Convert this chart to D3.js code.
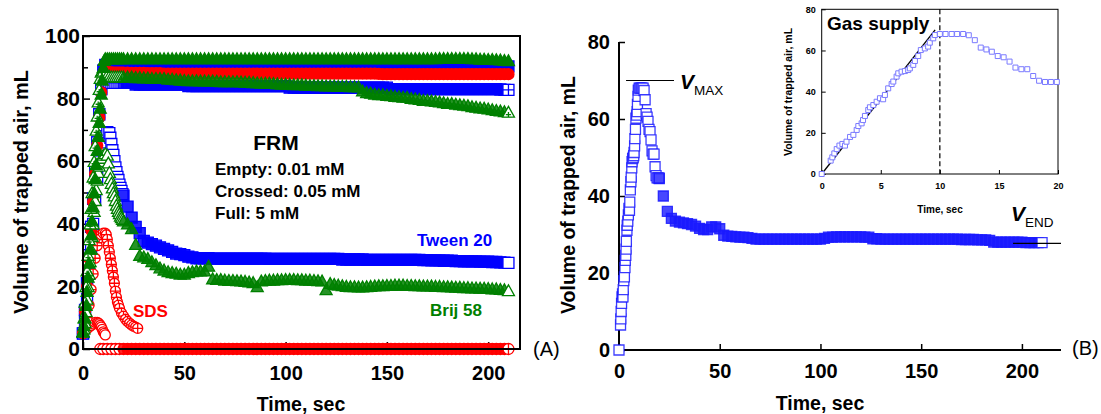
<!DOCTYPE html>
<html>
<head>
<meta charset="UTF-8">
<title>Trapped air volume</title>
<script src="https://d3js.org/d3.v7.min.js"></script>
<style>
  body { margin: 0; background: #fff; }
  svg text { font-family: "Liberation Sans", Arial, Helvetica, sans-serif; }
</style>
</head>
<body>
<div id="chart"></div>
<script>
// ---------------- data ----------------
// long tails are read every 2 s from t = 20 s to 210 s
var tailTime = d3.range(20, 211, 2);

// Panel A, Tween 20 (blue squares)
var tweenFullHead = [[0,5],[1,12],[2,21],[3,30],[4,39],[5,48],[6,57],[7,66],[8,75],[9,83],[10,89],[11,90.8],[12,90.6],[13,90.5],[14,90.5],[15,90.5],[16,90.5],[17,90.5],[18,90.5],[19,90.5]];
var tweenFullTail = [
  90.5,90.5,90.5,90.5,90.5,90.5,90.5,90.5,90.5,90.5,90.5,90.5,
  90.5,90.5,90.5,90.5,90.5,90.5,90.5,90.5,90.5,90.5,90.5,90.5,
  90.5,90.5,90.5,90.5,90.5,90.5,90.5,90.5,90.5,90.5,90.5,90.5,
  90.5,90.5,90.5,90.5,90.5,90.5,90.5,90.5,90.5,90.5,90.5,90.5,
  90.5,90.5,90.5,90.5,90.5,90.5,90.5,90.5,90.5,90.5,90.5,90.5,
  90.5,90.5,90.5,90.5,90.5,90.5,90.5,90.5,90.5,90.5,90.5,90.5,
  90.5,90.5,90.5,90.5,90.5,90.5,90.5,90.5,90.5,90.5,90.5,90.5,
  90.5,90.5,90.5,90.5,90.5,90.5,90.5,90.5,90.5,90.4,90.3,90.3];
var tweenCrossedHead = [[0,5],[1,12.5],[2,21],[3,30],[4,39],[5,48],[6,57],[7,66],[8,75],[9,83],[10,87.5],[11,86.5],[12,85.5],[13,85.2],[14,85],[15,85],[16,85],[17,85],[18,85],[19,85]];
var tweenCrossedTail = [
  85,85,85,84.5,84.5,84.5,84.5,84.5,84.5,84.5,84.5,84.5,
  84.5,84.5,84.5,84.5,84,84,84,84,84,84,84,84,
  84,84,84,84,84,84,84,84,84,84,84,84,
  84,84,84,84,84,83.5,83.5,83.5,83.5,83.5,83.5,83.5,
  83.5,83.5,83.5,83.5,83.5,83.5,83.5,83.5,83.5,83.5,83.5,83.5,
  83.5,83.5,83.5,83.5,83.5,83.5,83,83,83,83,83,83,
  83,83,83,83,83,83,83,83,83,83,83,83,
  83,83,83,83,83,83,83,83,83,82.9,82.8,82.8];
var tweenEmptyHead = [[0,5],[1,9],[2,16],[3,24],[4,32],[5,40],[6,48],[7,55],[8,60],[9,63.5],[10,66],[11,68],[12,69.3],[13,69],[13.5,67.5],[14,65.5],[14.5,63.5],[15,62],[15.5,60],[16,58],[16.5,56.5],[17,55],[17.5,54],[18,52.5],[18.5,51.5],[19,50.5],[19.5,49.5]];
var tweenEmptyTail = [
  49,45.5,42,39,37,34.5,34,33.5,33,32.5,32,31.5,
  31,30.5,30.3,30,29.5,29.3,29,29,29,29,28.9,28.9,
  28.9,28.9,28.9,28.9,28.9,28.9,28.9,28.9,28.9,28.9,28.9,28.9,
  28.8,28.8,28.8,28.8,28.8,28.8,28.8,28.8,28.8,28.8,28.8,28.8,
  28.8,28.8,28.8,28.8,28.8,28.8,28.6,28.6,28.6,28.6,28.6,28.6,
  28.5,28.5,28.5,28.5,28.5,28.5,28.5,28.5,28.5,28.5,28.5,28.5,
  28.5,28.5,28.4,28.4,28.3,28.3,28.3,28.2,28.2,28.2,28.1,28.1,
  28,28,28,28,27.9,27.9,27.9,27.8,27.8,27.7,27.6,27.5];

// Panel A, SDS (red circles)
var sdsFullHead = [[0,5],[1,12],[2,20],[3,29],[4,38],[5,47],[6,56],[7,65],[8,74],[9,82],[10,87],[11,88.5],[12,88.4],[13,88.4],[14,88.4],[15,88.3],[16,88.3],[17,88.3],[18,88.3],[19,88.3]];
var sdsFullTail = [
  88.3,88.3,88.2,88.2,88.2,88.2,88.1,88.1,88.1,88.1,88,88,
  88,88,88,88,88,88,88,88,88,88,88,88,
  88,88,88,88,88,88,88,88,88,88,88,88,
  88,88,88,88,88,88,88,88,88,88,88,88,
  88,88,88,88,88,88,88,88,88,88,88,88,
  88,88,88,87.9,87.8,87.8,87.8,87.8,87.8,87.8,87.8,87.8,
  87.8,87.8,87.8,87.8,87.8,87.8,87.8,87.8,87.8,87.8,87.8,87.8,
  87.8,87.8,87.8,87.8,87.8,87.8,87.8,87.8,87.8,87.8,87.8,87.8];
var sdsCrossedHead = [[0,5],[1,7],[2,10],[3,14],[4,19],[5,24],[6,29],[7,33],[8,35.5],[9,36.5],[10,37],[11,37],[11.5,36.5],[12,35],[12.5,33],[13,31],[13.5,29],[14,27],[14.5,25],[15,23],[15.5,21],[16,18.5],[16.5,16.5],[17,15],[17.5,14],[18,13],[19,11.5],[20,10.5],[21,9.5],[22,8.8],[23,8.2],[24,7.7],[25,7.3],[26,7],[27,6.6]];
var sdsEmptyHead = [[0,5],[0.5,5.5],[1,6],[2,6.5],[3,7],[4,7.5],[5,8],[6,8.5],[7,8.5],[7.5,8.3],[8,8],[8.5,7.5],[9,7],[9.5,6.3],[10,5.5],[10.5,5],[11,4.5]];
var sdsBaseHead = [[8.5,0],[10,0],[12,0],[14,0],[16,0],[18,0]];
var sdsBaseTail = [
  0,0,0,0,0,0,0,0,0,0,0,0, 0,0,0,0,0,0,0,0,0,0,0,0,
  0,0,0,0,0,0,0,0,0,0,0,0, 0,0,0,0,0,0,0,0,0,0,0,0,
  0,0,0,0,0,0,0,0,0,0,0,0, 0,0,0,0,0,0,0,0,0,0,0,0,
  0,0,0,0,0,0,0,0,0,0,0,0, 0,0,0,0,0,0,0,0,0,0,0,0];

// Panel A, Brij 58 (green triangles)
var brijFullHead = [[0,5],[0.5,7],[1,9.5],[1.5,13.5],[2,18],[2.5,22.5],[3,27],[3.5,31.5],[4,36],[4.5,40.5],[5,45],[5.5,49.5],[6,54],[6.5,58.5],[7,63],[7.5,67.5],[8,72],[8.5,76.5],[9,81],[9.5,85.5],[10,89.5],[10.5,91.8],[11,92.3],[12,92.3],[13,92.3],[14,92.3],[15,92.3],[16,92.3],[17,92.3],[18,92.3],[19,92.3]];
var brijFullTail = [
  92.3,92.3,92.3,92.3,92.3,92.3,92.3,92.3,92.3,92.3,92.3,92.3,
  92.3,92.3,92.3,92.3,92.3,92.3,92.3,92.3,92.3,92.3,92.3,92.3,
  92.3,92.3,92.3,92.3,92.3,92.3,92.3,92.3,92.3,92.3,92.3,92.3,
  92.3,92.3,92.3,92.3,92.3,92.3,92.3,92.3,92.3,92.3,92.3,92.3,
  92.3,92.3,92.3,92.3,92.3,92.3,92.3,92.3,92.3,92.3,92.3,92.3,
  92.3,92.3,92.3,92.3,92.3,92.3,92.3,92.3,92.3,92.3,92.3,92.3,
  92.3,92.3,92.3,92.3,92.3,92.3,92.4,92.4,92.4,92.4,92.4,92.4,
  92.4,92.4,92.3,92.3,92.2,92.2,92.1,92.1,92,91.9,91.8,91.7];
var brijCrossedHead = [[0,5],[0.5,9.5],[1,14.5],[1.5,19.5],[2,24.5],[2.5,29.5],[3,34.5],[3.5,39.5],[4,44.5],[4.5,49.5],[5,54.5],[5.5,59.5],[6,64.5],[6.5,69.5],[7,74],[7.5,78.5],[8,82.5],[8.5,86],[9,88],[9.5,88.5],[10,88.3],[11,87.5],[12,87],[13,86.7],[14,86.5],[15,86.5],[16,86.5],[17,86.5],[18,86.5],[19,86.5]];
var brijCrossedTail = [
  86.5,86.5,86.5,86.3,86.3,86.2,86.2,86,86,86,86,85.8,
  85.8,85.6,85.5,85.4,85.3,85.3,85.3,85.2,85.2,85.2,85.2,85.1,
  85,85,85,85,85,84.9,84.8,84.8,84.7,84.6,84.5,84.5,
  84.5,84.4,84.3,84.2,84.2,84.1,84,84,84,83.9,83.8,83.8,
  83.7,83.7,83.6,83.6,83.6,83.5,83.5,83.5,83.4,83.4,83.3,82,
  81.5,81.3,81,80.8,80.8,80.6,80.5,80.3,80.2,80,80,79.6,
  79.5,79.3,79,79,78.8,78.7,78.5,78.3,78,78,77.8,77.6,
  77.5,77.3,77,76.8,76.6,76.5,76.3,76,75.8,75.6,75.4,75.2];
var brijEmptyHead = [[0,5],[0.5,6],[1,8],[1.5,11.5],[2,15.5],[2.5,19.5],[3,23.5],[3.5,27.5],[4,31.5],[4.5,35.5],[5,39.5],[5.5,43.5],[6,47],[6.5,50.5],[7,53.5],[7.5,56],[8,58],[8.5,59.5],[9,60.5],[10,61.5],[11,62],[12,61.5],[12.5,59],[13,56],[13.5,54],[14,52.5],[14.5,51],[15,49.5],[15.5,48.5],[16,47],[16.5,45.5],[17,44.5],[17.5,43.5],[18,42.8],[18.5,42],[19,41.5],[19.5,41]];
var brijEmptyTail = [
  40.5,39.5,38,33,29.5,29,28.5,27.5,26.5,25.5,24.8,24.3,
  24,23.8,23.5,23.5,24,24.3,24.5,24.5,24.5,26,22,21.8,
  21.8,21.6,21.5,21.5,21.4,21.3,21.2,21,20.8,19.5,21.3,21.5,
  21.6,21.6,21.7,21.7,21.8,21.8,21.8,21.7,21.7,21.6,21.6,21.5,
  21.4,21.3,18.5,20.5,20.2,20,19.8,19.6,19.5,19.5,19.4,19.4,
  19.5,19.6,19.7,19.8,19.8,19.9,19.9,20,20,20,19.9,19.9,
  19.8,19.8,19.7,19.7,19.7,19.6,19.6,19.5,19.5,19.4,19.3,19.3,
  19.2,19.2,19.1,19.1,19,19,18.9,18.8,18.8,18.6,18.5,18.2];

// Panel B: gas supply period (also the inset) and the tail
var supplyT = [0,0.76,0.9,1.07,1.27,1.5,1.75,1.97,2.1,2.4,2.68,2.96,3.1,3.38,3.5,3.66,3.94,4.08,4.37,4.65,4.93,5.2,5.35,5.63,5.92,6.06,6.34,6.48,6.76,7.04,7.32,7.46,7.75,7.89,8.17,8.39,8.73,9.01,9.15,9.44,9.58,10,10.48,11,11.46,11.97,12.45,12.96,13.46,13.94,14.4,14.9,15.4,15.9,16.4,16.9,17.4,17.9,18.4,18.9,19.4,19.9];
var supplyV = [0,6.5,8.1,10,12.1,13.8,14.6,13.8,15.7,18,19,21.4,23.3,24.6,26.2,28.2,31.1,32.4,33.5,35.1,36.8,36.3,38.4,41.6,43.7,44.9,47.3,48.9,49.7,50,50.5,51.3,53,54.9,57.3,60.2,61,61.9,63.8,65.9,67.5,68,68,68,68,68,67.4,65,61.4,60.5,59.4,57.3,56.7,54.6,51.7,50.9,50.9,47.6,45.3,44.7,44.7,44.7];
var bTail = [
  44.5,40,36,34.2,33.5,33.2,33,32.8,32.6,32.2,31.6,31.3,
  31.3,32,32,31.5,29.8,29.6,29.5,29.4,29.3,29.3,29.2,29,
  28.8,28.8,28.8,28.8,28.8,28.8,28.8,28.8,28.8,28.8,28.8,28.8,
  28.8,28.8,28.8,28.8,28.8,29,29.3,29.3,29.4,29.4,29.4,29.4,
  29.4,29.4,29.4,29.3,29.3,28.9,28.9,28.8,28.8,28.8,28.8,28.8,
  28.8,28.8,28.8,28.8,28.8,28.8,28.8,28.8,28.8,28.8,28.8,28.8,
  28.8,28.8,28.8,28.7,28.7,28.7,28.7,28.6,28.6,28.6,28.5,28,
  28,28,28,28,28,28,28,27.9,27.9,27.9,27.9,27.9];
var supplyLineT = [0, 9.6];
var supplyLineV = [0, 70];
var vMax = 70, vEnd = 27.7, supplyEnd = 10;

// ---------------- drawing ----------------
var W = 1101, H = 414;
var BLUE = "#0000ff", RED = "#ff0000", GREEN = "#008000";

var svg = d3.select("#chart").append("svg")
    .attr("width", W).attr("height", H);

function series(head, tail) {
    var pts = head.map(function (p) { return { t: p[0], v: p[1], tail: false }; });
    if (tail) tail.forEach(function (v, i) { pts.push({ t: tailTime[i], v: v, tail: true }); });
    return pts;
}

function shapePath(shape, s) {
    var h = s / 2;
    if (shape === "square") return "M" + (-h) + "," + (-h) + "H" + h + "V" + h + "H" + (-h) + "Z";
    if (shape === "circle") return "M" + h + ",0A" + h + "," + h + " 0 1,1 " + (-h) + ",0A" + h + "," + h + " 0 1,1 " + h + ",0Z";
    var th = s * 0.9;
    return "M0," + (-th * 2 / 3) + "L" + h + "," + (th / 3) + "L" + (-h) + "," + (th / 3) + "Z";
}
function crossPath(shape, s) {
    var h = s / 2;
    if (shape === "triangle") {
        var c = s * 0.22, cy = s * 0.08;
        return "M" + (-c) + "," + cy + "H" + c + "M0," + (cy - c) + "V" + (cy + c);
    }
    return "M" + (-h) + ",0H" + h + "M0," + (-h) + "V" + h;
}

// open markers: white inside while sampling is dense, tinted in the 2 s tails
function drawSeries(g, pts, sx, sy, o) {
    var last = pts.length - 1;
    var d = shapePath(o.shape, o.size) + (o.style === "crossed" ? crossPath(o.shape, o.size) : "");
    g.append("g")
        .attr("stroke", o.color)
        .attr("stroke-width", o.sw || 1.3)
        .attr("stroke-opacity", o.opacity || 1)
        .selectAll("path")
        .data(pts)
        .join("path")
        .attr("transform", function (p) { return "translate(" + sx(p.t) + "," + sy(p.v) + ")"; })
        .attr("d", d)
        .attr("fill", function (p, i) {
            if (o.style === "filled") return o.color;
            if (i === last || !p.tail) return "#fff";
            return o.color;
        })
        .attr("fill-opacity", function (p, i) {
            return (o.style !== "filled" && p.tail && i !== last) ? (o.tint || 0.85) : 1;
        });
}

function styleAxis(g, size) {
    g.select(".domain").remove();
    g.selectAll(".tick line").attr("stroke", "#000").attr("stroke-width", 1.5);
    g.selectAll("text").attr("font-size", size).attr("font-weight", "bold").attr("fill", "#000")
        .style("font-family", "'Liberation Sans', Arial, sans-serif");
}

// ===== Panel A =====
var xA = d3.scaleLinear().domain([0, 215.7]).range([83, 520]);
var yA = d3.scaleLinear().domain([0, 100]).range([349, 36]);
var gA = svg.append("g");

gA.append("g").attr("transform", "translate(83,0)")
    .call(d3.axisLeft(yA).tickValues([0, 20, 40, 60, 80, 100]).tickSize(-7).tickPadding(3))
    .call(styleAxis, 21);
gA.append("g").attr("transform", "translate(83,0)")
    .call(d3.axisLeft(yA).tickValues([10, 30, 50, 70, 90]).tickSize(-5).tickFormat(""))
    .call(styleAxis, 21);
gA.append("g").attr("transform", "translate(0,349)")
    .call(d3.axisBottom(xA).tickValues([0, 50, 100, 150, 200]).tickSize(-7).tickPadding(17))
    .call(styleAxis, 20);

// Tween 20
drawSeries(gA, series(tweenFullHead, tweenFullTail), xA, yA, { shape: "square", style: "filled", color: BLUE, size: 11 });
drawSeries(gA, series(tweenCrossedHead, tweenCrossedTail), xA, yA, { shape: "square", style: "crossed", color: BLUE, size: 11 });
drawSeries(gA, series(tweenEmptyHead, tweenEmptyTail), xA, yA, { shape: "square", style: "open", color: BLUE, size: 11 });
// SDS
drawSeries(gA, series(sdsFullHead, sdsFullTail), xA, yA, { shape: "circle", style: "filled", color: RED, size: 11 });
drawSeries(gA, series(sdsBaseHead, sdsBaseTail), xA, yA, { shape: "circle", style: "crossed", color: RED, size: 11 });
drawSeries(gA, series(sdsEmptyHead), xA, yA, { shape: "circle", style: "open", color: RED, size: 10 });
drawSeries(gA, series(sdsCrossedHead), xA, yA, { shape: "circle", style: "crossed", color: RED, size: 10 });
// Brij 58
drawSeries(gA, series(brijEmptyHead, brijEmptyTail), xA, yA, { shape: "triangle", style: "open", color: GREEN, size: 12 });
drawSeries(gA, series(brijCrossedHead, brijCrossedTail), xA, yA, { shape: "triangle", style: "crossed", color: GREEN, size: 12 });
drawSeries(gA, series(brijFullHead, brijFullTail), xA, yA, { shape: "triangle", style: "filled", color: GREEN, size: 12 });

// frame
gA.append("rect")
    .attr("x", xA(0)).attr("y", yA(100))
    .attr("width", xA(215.7) - xA(0)).attr("height", yA(0) - yA(100))
    .attr("fill", "none").attr("stroke", "#000").attr("stroke-width", 2);

// labels
gA.append("text").attr("x", 301).attr("y", 411).attr("text-anchor", "middle")
    .attr("font-size", 19.5).attr("font-weight", "bold").text("Time, sec");
gA.append("text").attr("transform", "translate(27.5,192) rotate(-90)").attr("text-anchor", "middle")
    .attr("font-size", 20).attr("font-weight", "bold").text("Volume of trapped air, mL");
gA.append("text").attr("x", 276).attr("y", 150).attr("text-anchor", "middle")
    .attr("font-size", 21).attr("font-weight", "bold").text("FRM");
[["Empty: 0.01 mM", 175], ["Crossed: 0.05 mM", 197], ["Full: 5 mM", 219]].forEach(function (l) {
    gA.append("text").attr("x", 215).attr("y", l[1])
        .attr("font-size", 17).attr("font-weight", "bold").text(l[0]);
});
gA.append("text").attr("x", 417).attr("y", 246).attr("font-size", 17).attr("font-weight", "bold")
    .attr("fill", BLUE).text("Tween 20");
gA.append("text").attr("x", 430).attr("y", 316).attr("font-size", 17).attr("font-weight", "bold")
    .attr("fill", GREEN).text("Brij 58");
gA.append("text").attr("x", 133).attr("y", 316.5).attr("font-size", 17).attr("font-weight", "bold")
    .attr("fill", RED).text("SDS");
gA.append("text").attr("x", 533).attr("y", 356).attr("font-size", 20).text("(A)");

// ===== Panel B =====
var xB = d3.scaleLinear().domain([0, 219.4]).range([619, 1061]);
var yB = d3.scaleLinear().domain([0, 80]).range([350, 42]);
var gB = svg.append("g");

gB.append("g").attr("transform", "translate(619,0)")
    .call(d3.axisLeft(yB).tickValues([0, 20, 40, 60, 80]).tickSize(-6).tickPadding(9))
    .call(styleAxis, 20);
gB.append("g").attr("transform", "translate(0,350)")
    .call(d3.axisBottom(xB).tickValues([0, 50, 100, 150, 200]).tickSize(-6).tickPadding(14))
    .call(styleAxis, 20);
gB.append("line").attr("x1", xB(0)).attr("x2", xB(0)).attr("y1", yB(0)).attr("y2", yB(80))
    .attr("stroke", "#000").attr("stroke-width", 2);
gB.append("line").attr("x1", xB(0)).attr("x2", xB(219.4)).attr("y1", yB(0)).attr("y2", yB(0))
    .attr("stroke", "#000").attr("stroke-width", 2);

var bPts = supplyT.map(function (t, i) { return [t, supplyV[i]]; });
drawSeries(gB, series(bPts, bTail), xB, yB, { shape: "square", style: "open", color: "#1a1aff", size: 10, opacity: 0.85, tint: 0.8 });

// V max / V end
gB.append("line").attr("x1", xB(3.5)).attr("x2", xB(27.3)).attr("y1", yB(vMax)).attr("y2", yB(vMax))
    .attr("stroke", "#000").attr("stroke-width", 1.2);
gB.append("line").attr("x1", xB(195.6)).attr("x2", xB(219.4)).attr("y1", yB(vEnd)).attr("y2", yB(vEnd))
    .attr("stroke", "#000").attr("stroke-width", 1.2);
var vm = gB.append("text").attr("x", 680).attr("y", 89);
vm.append("tspan").attr("font-size", 21).attr("font-weight", "bold").attr("font-style", "italic").text("V");
vm.append("tspan").attr("font-size", 13.5).attr("dy", 6).text("MAX");
var ve = gB.append("text").attr("x", 1011).attr("y", 221);
ve.append("tspan").attr("font-size", 21).attr("font-weight", "bold").attr("font-style", "italic").text("V");
ve.append("tspan").attr("font-size", 13.5).attr("dy", 6).text("END");

gB.append("text").attr("x", 820).attr("y", 410).attr("text-anchor", "middle")
    .attr("font-size", 19.5).attr("font-weight", "bold").text("Time, sec");
gB.append("text").attr("transform", "translate(574.5,195) rotate(-90)").attr("text-anchor", "middle")
    .attr("font-size", 19.5).attr("font-weight", "bold").text("Volume of trapped air, mL");
gB.append("text").attr("x", 1072).attr("y", 355).attr("font-size", 20).text("(B)");

// ===== Inset =====
var xI = d3.scaleLinear().domain([0, 20]).range([821.7, 1058]);
var yI = d3.scaleLinear().domain([0, 80]).range([174, 9.3]);
var gI = svg.append("g");

gI.append("rect").attr("x", xI(0)).attr("y", yI(80))
    .attr("width", xI(20) - xI(0)).attr("height", yI(0) - yI(80))
    .attr("fill", "#fff").attr("stroke", "#000").attr("stroke-width", 1);
gI.append("g").attr("transform", "translate(" + xI(0) + ",0)")
    .call(d3.axisLeft(yI).tickValues([0, 20, 40, 60, 80]).tickSize(-4).tickPadding(6))
    .call(styleAxis, 9)
    .selectAll(".tick line").attr("stroke-width", 1);
gI.append("g").attr("transform", "translate(0," + yI(0) + ")")
    .call(d3.axisBottom(xI).tickValues([0, 5, 10, 15, 20]).tickSize(-4).tickPadding(9))
    .call(styleAxis, 9)
    .selectAll(".tick line").attr("stroke-width", 1);

gI.append("line").attr("x1", xI(supplyEnd)).attr("x2", xI(supplyEnd)).attr("y1", yI(80)).attr("y2", yI(0))
    .attr("stroke", "#000").attr("stroke-width", 1.2).attr("stroke-dasharray", "5,3");
gI.append("line")
    .attr("x1", xI(supplyLineT[0])).attr("y1", yI(supplyLineV[0]))
    .attr("x2", xI(supplyLineT[1])).attr("y2", yI(supplyLineV[1]))
    .attr("stroke", "#000").attr("stroke-width", 1.3);
drawSeries(gI, series(bPts), xI, yI, { shape: "square", style: "open", color: "#7a7aff", size: 5, sw: 1 });

gI.append("text").attr("x", 827).attr("y", 30).attr("font-size", 19).attr("font-weight", "bold").text("Gas supply");
gI.append("text").attr("x", 940).attr("y", 213).attr("text-anchor", "middle")
    .attr("font-size", 10).attr("font-weight", "bold").text("Time, sec");
gI.append("text").attr("transform", "translate(792,92) rotate(-90)").attr("text-anchor", "middle")
    .attr("font-size", 10.5).attr("font-weight", "bold").text("Volume of trapped air, mL");
</script>
</body>
</html>
